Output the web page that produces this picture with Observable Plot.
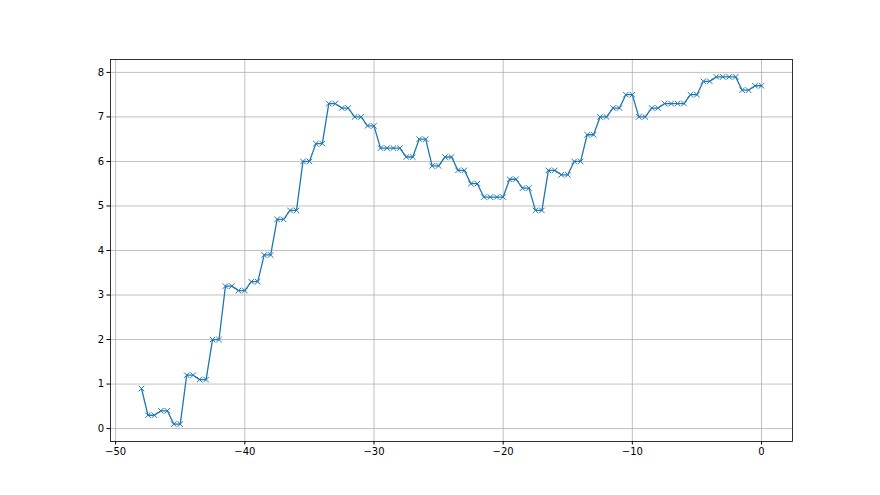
<!DOCTYPE html>
<html>
<head>
<meta charset="utf-8">
<script src="https://cdn.jsdelivr.net/npm/d3@7"></script>
<script src="https://cdn.jsdelivr.net/npm/@observablehq/plot@0.6"></script>
<style>
  html, body { margin: 0; padding: 0; background: #fff; }
</style>
</head>
<body>
<div id="chart"></div>
<script>
const xs = [-48, -47.5, -47, -46.5, -46, -45.5, -45, -44.5, -44, -43.5, -43, -42.5, -42, -41.5, -41, -40.5, -40,
  -39.5, -39, -38.5, -38, -37.5, -37, -36.5, -36, -35.5, -35, -34.5, -34, -33.5, -33, -32.5, -32, -31.5, -31,
  -30.5, -30, -29.5, -29, -28.5, -28, -27.5, -27, -26.5, -26, -25.5, -25, -24.5, -24, -23.5, -23, -22.5, -22,
  -21.5, -21, -20.5, -20, -19.5, -19, -18.5, -18, -17.5, -17, -16.5, -16, -15.5, -15, -14.5, -14, -13.5, -13,
  -12.5, -12, -11.5, -11, -10.5, -10, -9.5, -9, -8.5, -8, -7.5, -7, -6.5, -6, -5.5, -5, -4.5, -4, -3.5, -3,
  -2.5, -2, -1.5, -1, -0.5, 0];
const ys = [0.9, 0.3, 0.3, 0.4, 0.4, 0.1, 0.1, 1.2, 1.2, 1.1, 1.1, 2.0, 2.0, 3.2, 3.2, 3.1, 3.1, 3.3, 3.3,
  3.9, 3.9, 4.7, 4.7, 4.9, 4.9, 6.0, 6.0, 6.4, 6.4, 7.3, 7.3, 7.2, 7.2, 7.0, 7.0, 6.8, 6.8, 6.3, 6.3, 6.3, 6.3,
  6.1, 6.1, 6.5, 6.5, 5.9, 5.9, 6.1, 6.1, 5.8, 5.8, 5.5, 5.5, 5.2, 5.2, 5.2, 5.2, 5.6, 5.6, 5.4, 5.4, 4.9, 4.9,
  5.8, 5.8, 5.7, 5.7, 6.0, 6.0, 6.6, 6.6, 7.0, 7.0, 7.2, 7.2, 7.5, 7.5, 7.0, 7.0, 7.2, 7.2, 7.3, 7.3, 7.3, 7.3,
  7.5, 7.5, 7.8, 7.8, 7.9, 7.9, 7.9, 7.9, 7.6, 7.6, 7.7, 7.7];
const xTicks = [-50, -40, -30, -20, -10, 0];
const yTicks = [0, 1, 2, 3, 4, 5, 6, 7, 8];

const data = xs.map((x, i) => ({x, y: ys[i]}));

const chart = Plot.plot({
  width: 880,
  height: 495,
  marginLeft: 110,
  marginRight: 88,
  marginTop: 59,
  marginBottom: 54,
  style: {background: "#fff", fontFamily: "DejaVu Sans, sans-serif", fontSize: "10px", color: "#000"},
  x: {domain: [-50.4, 2.4], label: null},
  y: {domain: [-0.29, 8.29], label: null},
  marks: [
    Plot.gridX(xTicks, {stroke: "#b0b0b0", strokeOpacity: 1, strokeWidth: 0.8}),
    Plot.gridY(yTicks, {stroke: "#b0b0b0", strokeOpacity: 1, strokeWidth: 0.8}),
    Plot.line(data, {x: "x", y: "y", stroke: "#1f77b4", strokeWidth: 1.3}),
    Plot.dot(data, {x: "x", y: "y", symbol: "times", r: 2.6, stroke: "#1f77b4", strokeWidth: 1}),
    Plot.frame({stroke: "#000", strokeWidth: 0.8}),
    Plot.axisX(xTicks, {tickSize: 3.5, tickPadding: 3, fontSize: 10, label: null, stroke: "#000"}),
    Plot.axisY(yTicks, {tickSize: 3.5, tickPadding: 3, fontSize: 10, label: null, stroke: "#000"})
  ]
});
document.getElementById("chart").appendChild(chart);
</script>
</body>
</html>
